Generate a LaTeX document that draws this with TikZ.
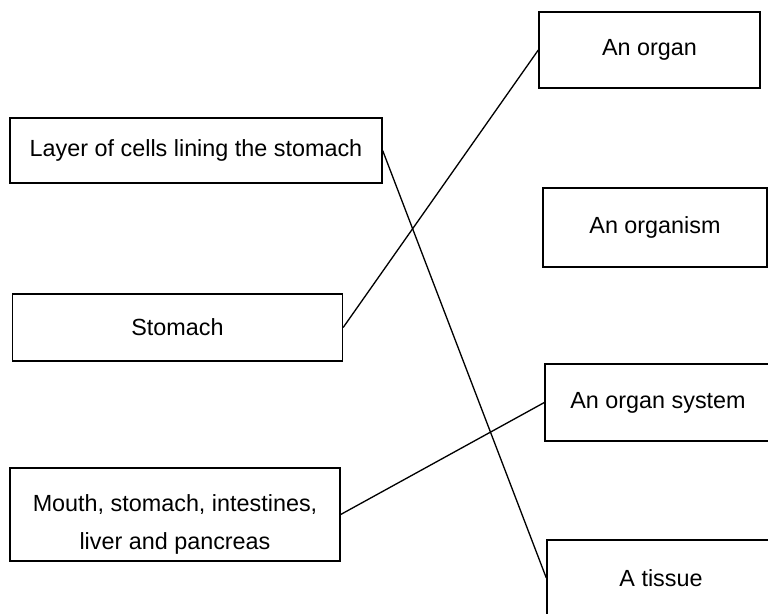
\documentclass[tikz,border=0pt]{standalone}
\usepackage{fontspec}
\setmainfont{Liberation Sans}
\usepackage{tikz}

\begin{document}
\begin{tikzpicture}[x=0.02cm, y=-0.02cm, font=\fontsize{13.3}{16}\selectfont,
    box/.style={draw, line width=0.8pt, inner sep=0pt, align=center},
    link/.style={line width=0.75pt}]
        \useasboundingbox (0,0) rectangle (768,613);
        % left column
        \node[box, minimum width=7.44cm, minimum height=1.3cm] (layer) at (196,150.5)
          {Layer of cells lining the stomach};
        \node[box, minimum width=6.6cm, minimum height=1.34cm] (stomach) at (177.5,327.5)
          {Stomach};
        \node[box, minimum width=6.6cm, minimum height=1.86cm] (mouth) at (175,514.5)
          {\rule{0pt}{21pt}Mouth, stomach, intestines,\\[5.5pt] liver and pancreas};
        % right column
        \node[box, minimum width=4.42cm, minimum height=1.52cm] (organ) at (649.5,50)
          {An organ};
        \node[box, minimum width=4.48cm, minimum height=1.58cm] (organism) at (655,227.5)
          {An organism};
        \node[box, minimum width=4.8cm, minimum height=1.54cm] (system) at (665,402.5)
          {\hspace*{-0.28cm}An organ system};
        \node[box, minimum width=4.8cm, minimum height=1.52cm] (tissue) at (667,578)
          {\hspace*{-0.24cm}A tissue};
        % matching lines
        \draw[link] (layer.east) -- (tissue.west);
        \draw[link] (stomach.east) -- (organ.west);
        \draw[link] (mouth.east) -- (system.west);
\end{tikzpicture}
\end{document}
